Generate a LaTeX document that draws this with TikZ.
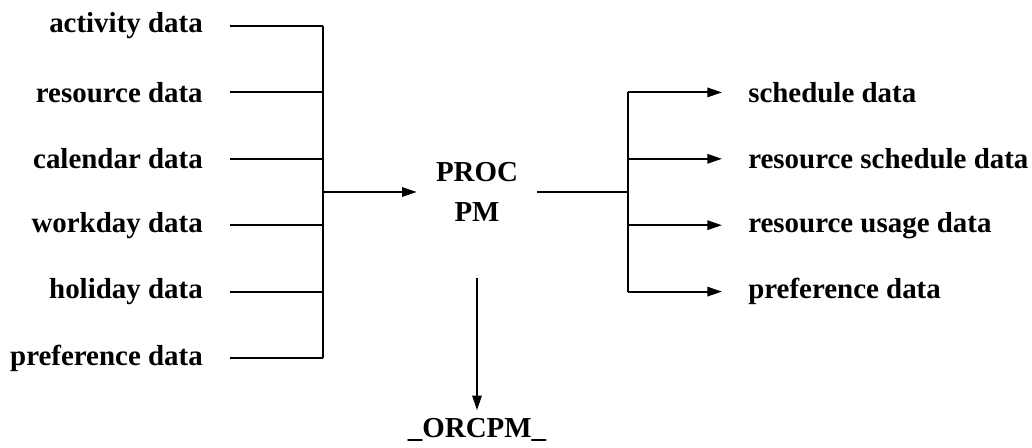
\documentclass[tikz,border=0pt]{standalone}
\usepackage{fontspec}
\setmainfont{Liberation Serif}
\usetikzlibrary{arrows.meta}
\begin{document}
\begin{tikzpicture}[x=0.75pt,y=-0.75pt,
  lbl/.style={font=\bfseries\fontsize{21.7}{30}\selectfont,inner sep=0pt},
  conn/.style={line width=1.5pt},
  arr/.style={conn,-{Triangle[length=11pt,width=7pt]}}]
\useasboundingbox (0,0) rectangle (1032,447);
% left labels
\foreach \t/\y [count=\i] in {activity data/26,resource data/92.4,calendar data/158.8,workday data/225.2,holiday data/291.6,preference data/358}{
  \node[lbl,anchor=east] (l\i) at (203,\y) {\t};
  \coordinate (ls\i) at (230,\y);
  \coordinate (lj\i) at (323,\y);
}
\coordinate (jl) at (323,192);
\node[lbl,align=center,minimum width=90pt,minimum height=129pt] (proc) at (477,192) {PROC\\PM};
\coordinate (jr) at (628,192);
% right labels
\foreach \t/\y [count=\i] in {schedule data/92.4,resource schedule data/158.8,resource usage data/225.2,preference data/291.6}{
  \node[lbl,anchor=west] (r\i) at (748,\y) {\t};
  \coordinate (rj\i) at (628,\y);
  \coordinate (re\i) at (722,\y);
}
\node[lbl,anchor=base,inner ysep=5.5pt] (orcpm) at (477,437) {\_ORCPM\_};
% connectors
\foreach \i in {1,...,6}{\draw[conn] (ls\i) -- (lj\i);}
\draw[conn] (lj1) -- (lj6);
\draw[arr] (jl) -- (proc.west);
\draw[conn] (proc.east) -- (jr);
\draw[conn] (rj1) -- (rj4);
\foreach \i in {1,...,4}{\draw[arr] (rj\i) -- (re\i);}
\draw[arr] (proc.south) -- (orcpm.north);
\end{tikzpicture}
\end{document}
